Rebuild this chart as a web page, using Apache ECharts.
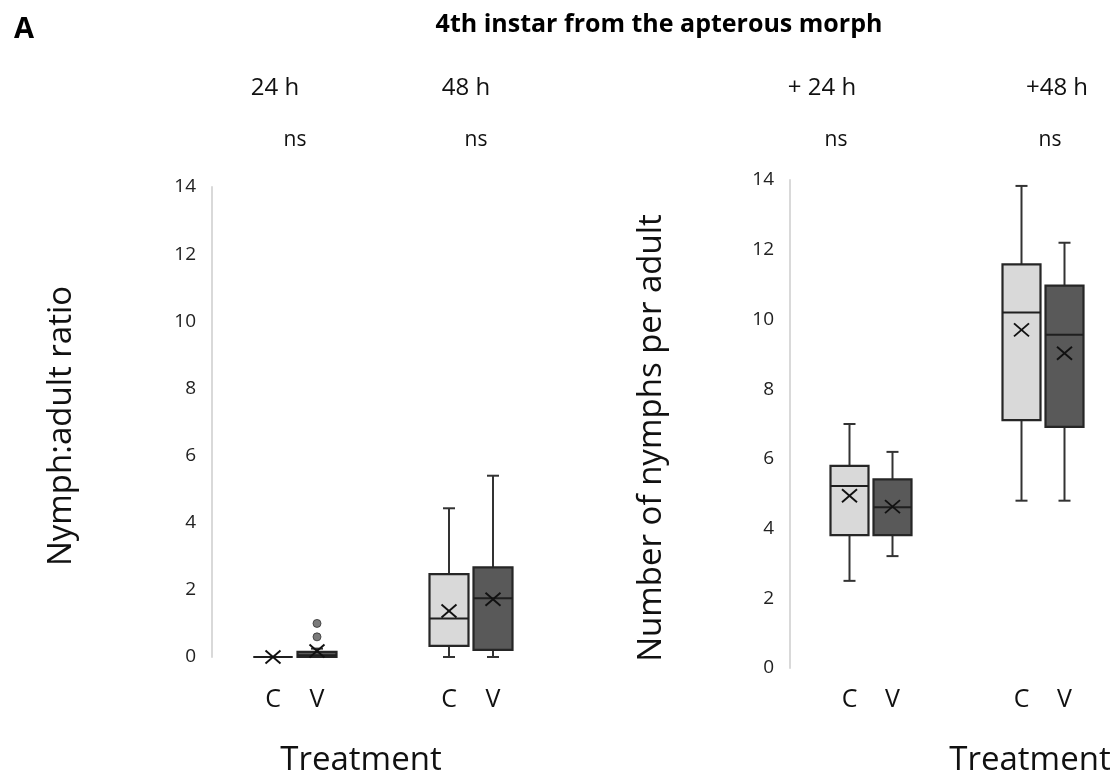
<!DOCTYPE html>
<html>
<head>
<meta charset="utf-8">
<script src="https://cdn.jsdelivr.net/npm/echarts@6/dist/echarts.min.js"></script>
<style>
  html, body { margin: 0; padding: 0; background: #ffffff; }
  #chart { width: 1115px; height: 778px; }
</style>
</head>
<body>
<div id="chart"></div>
<script>
// Box summaries are stored as [min, q1, median, q3, max, mean]
const ratioTimes = ['24 h', '48 h'];
const ratioControl = [[0, 0, 0, 0, 0, 0], [0, 0.33, 1.15, 2.47, 4.43, 1.37]];
const ratioTreated = [[0, 0, 0.05, 0.15, 0.25, 0.18], [0, 0.21, 1.75, 2.67, 5.4, 1.72]];
const ratioOutliers = [0.6, 1.0];       // outliers for V at 24 h

const nymphTimes = ['+ 24 h', '+48 h'];
const nymphControl = [[2.5, 3.81, 5.22, 5.8, 7.0, 4.94], [4.8, 7.11, 10.2, 11.58, 13.83, 9.7]];
const nymphTreated = [[3.21, 3.81, 4.61, 5.41, 6.2, 4.63], [4.8, 6.92, 9.56, 10.97, 12.2, 9.03]];

const significance = ['ns', 'ns', 'ns', 'ns'];
const treatments = ['C', 'V'];
const yTicks = [0, 2, 4, 6, 8, 10, 12, 14];

// Category slots on each panel: C, V, two empty spacers, C, V
const slots = [treatments[0], treatments[1], '', '', treatments[0], treatments[1]];
const controlSlots = [0, 4];
const treatedSlots = [1, 5];

const FONT = "'Open Sans', 'DejaVu Sans', sans-serif";
const TEXT = '#111111';

function boxRows(control, treated) {
  const rows = [];
  control.forEach((s, i) => rows.push([controlSlots[i]].concat(s).concat([0])));
  treated.forEach((s, i) => rows.push([treatedSlots[i]].concat(s).concat([1])));
  return rows;
}

const fills = ['#d9d9d9', '#595959'];

function renderBox(params, api) {
  const slot = api.value(0);
  const at = v => api.coord([slot, v]);
  const band = api.size([1, 0])[0];
  const w = band - 5;
  const cx = at(api.value(1))[0];
  const yMin = at(api.value(1))[1];
  const yQ1 = at(api.value(2))[1];
  const yMed = at(api.value(3))[1];
  const yQ3 = at(api.value(4))[1];
  const yMax = at(api.value(5))[1];
  const yMean = at(api.value(6))[1];
  const fill = fills[api.value(7)];
  const lineStyle = { stroke: '#333333', lineWidth: 2 };
  const cap = 6;
  const mx = 7.5, my = 6.5;
  return {
    type: 'group',
    children: [
      { type: 'line', shape: { x1: cx, y1: yQ3, x2: cx, y2: yMax }, style: lineStyle },
      { type: 'line', shape: { x1: cx - cap, y1: yMax, x2: cx + cap, y2: yMax }, style: lineStyle },
      { type: 'line', shape: { x1: cx, y1: yQ1, x2: cx, y2: yMin }, style: lineStyle },
      { type: 'line', shape: { x1: cx - cap, y1: yMin, x2: cx + cap, y2: yMin }, style: lineStyle },
      { type: 'rect', shape: { x: cx - w / 2, y: yQ3, width: w, height: yQ1 - yQ3 },
        style: { fill: fill, stroke: '#262626', lineWidth: 2.2 } },
      { type: 'line', shape: { x1: cx - w / 2, y1: yMed, x2: cx + w / 2, y2: yMed },
        style: { stroke: '#1f1f1f', lineWidth: 2 } },
      { type: 'line', shape: { x1: cx - mx, y1: yMean - my, x2: cx + mx, y2: yMean + my },
        style: { stroke: '#111', lineWidth: 1.9 } },
      { type: 'line', shape: { x1: cx - mx, y1: yMean + my, x2: cx + mx, y2: yMean - my },
        style: { stroke: '#111', lineWidth: 1.9 } }
    ]
  };
}

function yAxisFor(gridIndex, offset) {
  return {
    gridIndex: gridIndex, type: 'value', min: 0, max: 14, interval: 2, offset: offset,
    axisLine: { show: true, lineStyle: { color: '#d9d9d9', width: 2 } },
    axisTick: { show: false },
    splitLine: { show: false },
    axisLabel: { fontSize: 19, color: '#222', fontFamily: FONT, margin: 16,
      formatter: v => (yTicks.indexOf(v) >= 0 ? String(v) : '') }
  };
}

function xAxisFor(gridIndex, margin) {
  return {
    gridIndex: gridIndex, type: 'category', data: slots, boundaryGap: true,
    axisLine: { show: false }, axisTick: { show: false }, splitLine: { show: false },
    axisLabel: { fontSize: 25, color: TEXT, fontFamily: FONT, margin: margin, interval: 0 }
  };
}

function text(x, y, str, size, opts) {
  return Object.assign({
    type: 'text', x: x, y: y,
    style: { text: str, fontSize: size, fontFamily: FONT, fill: TEXT,
      align: 'center', verticalAlign: 'middle', fontWeight: 'normal' }
  }, opts || {});
}

function boldText(x, y, str, size) {
  return { type: 'text', x: x, y: y,
    style: { text: str, fontSize: size, fontWeight: 'bold', fontFamily: FONT, fill: '#000',
      align: 'center', verticalAlign: 'middle' } };
}

const timeX = [275, 466, 822, 1057];
const nsX = [295, 476, 836, 1050];
const timeLabels = ratioTimes.concat(nymphTimes);

const graphics = [
  boldText(24, 30, 'A', 29),
  boldText(659, 25, '4th instar from the apterous morph', 25),
  text(361, 761, 'Treatment', 33),
  text(1030, 761, 'Treatment', 33),
  text(62, 426, 'Nymph:adult ratio', 33, { rotation: Math.PI / 2 }),
  text(652, 438, 'Number of nymphs per adult', 33, { rotation: Math.PI / 2 })
];
timeLabels.forEach((t, i) => graphics.push(text(timeX[i], 88, t, 24)));
significance.forEach((s, i) => graphics.push(text(nsX[i], 140, s, 21)));

const chart = echarts.init(document.getElementById('chart'), null, { renderer: 'canvas' });
chart.setOption({
  backgroundColor: '#ffffff',
  animation: false,
  grid: [
    { left: 251, top: 187, width: 264, height: 470 },
    { left: 828, top: 180, width: 258, height: 488 }
  ],
  xAxis: [xAxisFor(0, 30), xAxisFor(1, 19)],
  yAxis: [yAxisFor(0, 39), yAxisFor(1, 38)],
  series: [
    {
      type: 'custom', xAxisIndex: 0, yAxisIndex: 0,
      renderItem: renderBox,
      encode: { x: 0, y: [1, 2, 3, 4, 5, 6] },
      data: boxRows(ratioControl, ratioTreated)
    },
    {
      type: 'scatter', xAxisIndex: 0, yAxisIndex: 0,
      symbol: 'circle', symbolSize: 8, z: 1,
      itemStyle: { color: '#595959', borderColor: '#333333', borderWidth: 1 },
      data: ratioOutliers.map(v => [treatedSlots[0], v])
    },
    {
      type: 'custom', xAxisIndex: 1, yAxisIndex: 1,
      renderItem: renderBox,
      encode: { x: 0, y: [1, 2, 3, 4, 5, 6] },
      data: boxRows(nymphControl, nymphTreated)
    }
  ],
  graphic: graphics
});
</script>
</body>
</html>
